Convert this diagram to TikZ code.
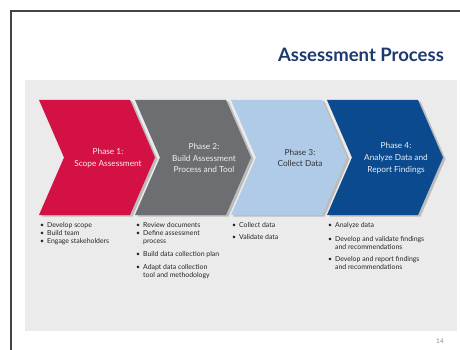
\documentclass[tikz,border=0pt]{standalone}
\usepackage{fontspec}
\setmainfont{Lato}
\definecolor{phred}{HTML}{D31145}
\definecolor{phgray}{HTML}{6D6E71}
\definecolor{phlblue}{HTML}{B0CBE8}
\definecolor{phnavy}{HTML}{0B4A8F}
\definecolor{titlenavy}{HTML}{1C3A70}
\definecolor{panelgray}{HTML}{EBEBEB}
\definecolor{framegray}{HTML}{444444}
\newcommand\chevshape{(0,100) -- (91,100) -- (116,157.5) -- (91,215) -- (0,215) -- (25,157.5) -- cycle}
\newcommand\bul{\textbullet\hspace{3pt}}
\newcommand\hang{\phantom{\textbullet}\hspace{3pt}}
\tikzset{
  chevshadow/.style={fill=black, opacity=0.2},
  phasetext/.style={align=center, font=\fontsize{8.3}{11.8}\selectfont, inner sep=0pt},
  bullettext/.style={align=left, anchor=north west, inner sep=0pt, text=black!85, font=\fontsize{6.9}{8}\selectfont},
  titletext/.style={font=\fontsize{18.5}{21}\selectfont\bfseries, text=titlenavy, inner sep=0pt}
}
\begin{document}
\begin{tikzpicture}[x=1pt,y=-1pt]
\useasboundingbox (0,0) rectangle (460,350);
\fill[white] (0,0) rectangle (460,350);
\draw[framegray, line width=1.2pt] (11,351) -- (11,11) -- (461,11);
\fill[panelgray] (25,80) rectangle (457,331);
\node[titletext, anchor=base east] (title) at (444,62) {Assessment Process};
% chevrons
\foreach \L/\c in {39/phred, 135/phgray, 231/phlblue, 327/phnavy}{
  \fill[chevshadow, shift={(\L+2.5,1.5)}] \chevshape;
  \fill[\c, shift={(\L,0)}] \chevshape;
}
\node[phasetext, text=white!92!phred] (p1) at (108,158) {Phase 1:\\Scope Assessment};
\node[phasetext, text=white!90!phgray] (p2) at (204,158) {Phase 2:\\Build Assessment\\Process and Tool};
\node[phasetext, text=black!80] (p3) at (300,158) {Phase 3:\\Collect Data};
\node[phasetext, text=white!92!phnavy] (p4) at (396,158) {Phase 4:\\Analyze Data and\\Report Findings};
% bullets
\node[bullettext] (b1) at (40,222) {\bul Develop scope\\ \bul Build team\\ \bul Engage stakeholders};
\node[bullettext] (b2) at (136,222) {\bul Review documents\\ \bul Define assessment\\ \hang process\\[5pt] \bul Build data collection plan\\[5pt] \bul Adapt data collection\\ \hang tool and methodology};
\node[bullettext] (b3) at (232,222) {\bul Collect data\\[4pt] \bul Validate data};
\node[bullettext] (b4) at (328,222) {\bul Analyze data\\[6pt] \bul Develop and validate findings\\ \hang and recommendations\\[4pt] \bul Develop and report findings\\ \hang and recommendations};
\node[font=\fontsize{6.5}{7}\selectfont, text=black!45, inner sep=0pt] (pg) at (440,341) {14};
\end{tikzpicture}
\end{document}
